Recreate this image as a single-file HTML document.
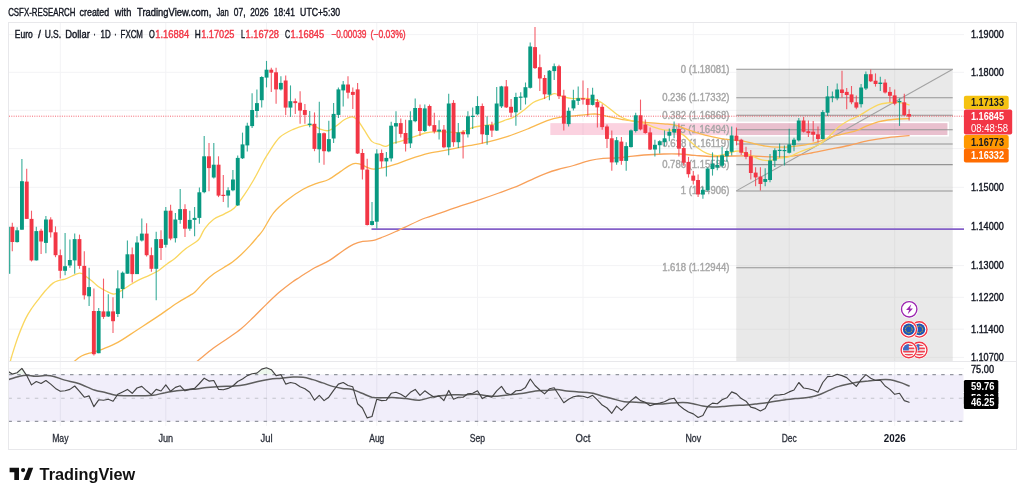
<!DOCTYPE html>
<html lang="en"><head><meta charset="utf-8"><title>EURUSD chart</title>
<style>html,body{margin:0;padding:0;background:#fff;}body{width:1024px;height:499px;overflow:hidden;font-family:"Liberation Sans",Arial,sans-serif;}svg{display:block;filter:blur(0.4px)}</style>
</head><body>
<svg width="1024" height="499" viewBox="0 0 1024 499" font-family="Liberation Sans, Arial, sans-serif">
<rect width="1024" height="499" fill="#fff"/>
<text x="8.2" y="15.7" font-size="10.6" fill="#131722" textLength="67.3" lengthAdjust="spacingAndGlyphs" stroke="#131722" stroke-width="0.4">CSFX-RESEARCH</text>
<text x="79.6" y="15.7" font-size="10.6" fill="#131722" textLength="29.5" lengthAdjust="spacingAndGlyphs" stroke="#131722" stroke-width="0.4">created</text>
<text x="114.8" y="15.7" font-size="10.6" fill="#131722" textLength="16.5" lengthAdjust="spacingAndGlyphs" stroke="#131722" stroke-width="0.4">with</text>
<text x="137.0" y="15.7" font-size="10.6" fill="#131722" textLength="74.3" lengthAdjust="spacingAndGlyphs" stroke="#131722" stroke-width="0.4">TradingView.com,</text>
<text x="216.4" y="15.7" font-size="10.6" fill="#131722" textLength="12.3" lengthAdjust="spacingAndGlyphs" stroke="#131722" stroke-width="0.4">Jan</text>
<text x="233.8" y="15.7" font-size="10.6" fill="#131722" textLength="11.7" lengthAdjust="spacingAndGlyphs" stroke="#131722" stroke-width="0.4">07,</text>
<text x="250.2" y="15.7" font-size="10.6" fill="#131722" textLength="18.5" lengthAdjust="spacingAndGlyphs" stroke="#131722" stroke-width="0.4">2026</text>
<text x="273.8" y="15.7" font-size="10.6" fill="#131722" textLength="21.0" lengthAdjust="spacingAndGlyphs" stroke="#131722" stroke-width="0.4">18:41</text>
<text x="300.1" y="15.7" font-size="10.6" fill="#131722" textLength="40.0" lengthAdjust="spacingAndGlyphs" stroke="#131722" stroke-width="0.4">UTC+5:30</text>
<rect x="8.5" y="22.5" width="1008" height="427" fill="#fff" stroke="#e8e8eb" stroke-width="1"/>
<defs><clipPath id="mp"><rect x="9" y="23" width="955" height="338"/></clipPath><clipPath id="rp"><rect x="9" y="362" width="955" height="64"/></clipPath></defs>
<line x1="60.3" y1="23" x2="60.3" y2="426" stroke="#f3f3f5" stroke-width="1"/>
<line x1="165.8" y1="23" x2="165.8" y2="426" stroke="#f3f3f5" stroke-width="1"/>
<line x1="266.5" y1="23" x2="266.5" y2="426" stroke="#f3f3f5" stroke-width="1"/>
<line x1="376.8" y1="23" x2="376.8" y2="426" stroke="#f3f3f5" stroke-width="1"/>
<line x1="477.5" y1="23" x2="477.5" y2="426" stroke="#f3f3f5" stroke-width="1"/>
<line x1="583" y1="23" x2="583" y2="426" stroke="#f3f3f5" stroke-width="1"/>
<line x1="693.3" y1="23" x2="693.3" y2="426" stroke="#f3f3f5" stroke-width="1"/>
<line x1="789.2" y1="23" x2="789.2" y2="426" stroke="#f3f3f5" stroke-width="1"/>
<line x1="894.7" y1="23" x2="894.7" y2="426" stroke="#f3f3f5" stroke-width="1"/>
<line x1="9" y1="34.6" x2="964" y2="34.6" stroke="#f3f3f5" stroke-width="1"/>
<line x1="9" y1="72.3" x2="964" y2="72.3" stroke="#f3f3f5" stroke-width="1"/>
<line x1="9" y1="110.3" x2="964" y2="110.3" stroke="#f3f3f5" stroke-width="1"/>
<line x1="9" y1="148.6" x2="964" y2="148.6" stroke="#f3f3f5" stroke-width="1"/>
<line x1="9" y1="187.3" x2="964" y2="187.3" stroke="#f3f3f5" stroke-width="1"/>
<line x1="9" y1="226.3" x2="964" y2="226.3" stroke="#f3f3f5" stroke-width="1"/>
<line x1="9" y1="265.6" x2="964" y2="265.6" stroke="#f3f3f5" stroke-width="1"/>
<line x1="9" y1="297.3" x2="964" y2="297.3" stroke="#f3f3f5" stroke-width="1"/>
<line x1="9" y1="329.2" x2="964" y2="329.2" stroke="#f3f3f5" stroke-width="1"/>
<line x1="9" y1="357.4" x2="964" y2="357.4" stroke="#f3f3f5" stroke-width="1"/>
<line x1="9" y1="361.5" x2="1016" y2="361.5" stroke="#e8e8eb" stroke-width="1"/>
<line x1="9" y1="368.7" x2="964" y2="368.7" stroke="#f3f3f5" stroke-width="1"/>
<g clip-path="url(#mp)">
<rect x="736.3" y="69.3" width="216.4" height="291.7" fill="#e9e9e9"/>
<line x1="789.2" y1="69.3" x2="789.2" y2="361" stroke="#dfdfdf" stroke-width="1"/>
<line x1="894.7" y1="69.3" x2="894.7" y2="361" stroke="#dfdfdf" stroke-width="1"/>
<line x1="736.3" y1="110.3" x2="952.7" y2="110.3" stroke="#e1e1e1" stroke-width="1"/>
<line x1="736.3" y1="148.6" x2="952.7" y2="148.6" stroke="#e1e1e1" stroke-width="1"/>
<line x1="736.3" y1="187.3" x2="952.7" y2="187.3" stroke="#e1e1e1" stroke-width="1"/>
<line x1="736.3" y1="226.3" x2="952.7" y2="226.3" stroke="#e1e1e1" stroke-width="1"/>
<line x1="736.3" y1="265.6" x2="952.7" y2="265.6" stroke="#e1e1e1" stroke-width="1"/>
<line x1="736.3" y1="297.3" x2="952.7" y2="297.3" stroke="#e1e1e1" stroke-width="1"/>
<line x1="736.3" y1="329.2" x2="952.7" y2="329.2" stroke="#e1e1e1" stroke-width="1"/>
<line x1="736.3" y1="357.4" x2="952.7" y2="357.4" stroke="#e1e1e1" stroke-width="1"/>
<rect x="549.6" y="122.4" width="398.6" height="13.4" fill="#e91e63" fill-opacity="0.2" stroke="#fff" stroke-width="1.5"/>
<line x1="736.3" y1="69.3" x2="952.7" y2="69.3" stroke="#949494" stroke-width="1.05"/>
<line x1="736.3" y1="97.7" x2="952.7" y2="97.7" stroke="#949494" stroke-width="1.05"/>
<line x1="736.3" y1="115.3" x2="952.7" y2="115.3" stroke="#949494" stroke-width="1.05"/>
<line x1="736.3" y1="129.7" x2="952.7" y2="129.7" stroke="#949494" stroke-width="1.05"/>
<line x1="736.3" y1="144.0" x2="952.7" y2="144.0" stroke="#949494" stroke-width="1.05"/>
<line x1="736.3" y1="164.6" x2="952.7" y2="164.6" stroke="#949494" stroke-width="1.05"/>
<line x1="736.3" y1="190.9" x2="952.7" y2="190.9" stroke="#949494" stroke-width="1.05"/>
<line x1="736.3" y1="267.8" x2="952.7" y2="267.8" stroke="#949494" stroke-width="1.05"/>
<line x1="736.3" y1="190.9" x2="952.7" y2="69.3" stroke="#a2a2a2" stroke-width="1.05"/>
<text x="729.4" y="72.6" font-size="10.6" fill="#a6a6a6" text-anchor="end" textLength="48.6" lengthAdjust="spacingAndGlyphs" stroke="#a6a6a6" stroke-width="0.4">0 (1.18081)</text>
<text x="729.4" y="101.0" font-size="10.6" fill="#a6a6a6" text-anchor="end" textLength="67.2" lengthAdjust="spacingAndGlyphs" stroke="#a6a6a6" stroke-width="0.4">0.236 (1.17332)</text>
<text x="729.4" y="118.6" font-size="10.6" fill="#a6a6a6" text-anchor="end" textLength="67.2" lengthAdjust="spacingAndGlyphs" stroke="#a6a6a6" stroke-width="0.4">0.382 (1.16868)</text>
<text x="729.4" y="133.0" font-size="10.6" fill="#a6a6a6" text-anchor="end" textLength="57.2" lengthAdjust="spacingAndGlyphs" stroke="#a6a6a6" stroke-width="0.4">0.5 (1.16494)</text>
<text x="729.4" y="147.3" font-size="10.6" fill="#a6a6a6" text-anchor="end" textLength="67.2" lengthAdjust="spacingAndGlyphs" stroke="#a6a6a6" stroke-width="0.4">0.618 (1.16119)</text>
<text x="729.4" y="167.9" font-size="10.6" fill="#a6a6a6" text-anchor="end" textLength="67.2" lengthAdjust="spacingAndGlyphs" stroke="#a6a6a6" stroke-width="0.4">0.786 (1.15586)</text>
<text x="729.4" y="194.2" font-size="10.6" fill="#a6a6a6" text-anchor="end" textLength="48.6" lengthAdjust="spacingAndGlyphs" stroke="#a6a6a6" stroke-width="0.4">1 (1.14906)</text>
<text x="729.4" y="271.1" font-size="10.6" fill="#a6a6a6" text-anchor="end" textLength="67.2" lengthAdjust="spacingAndGlyphs" stroke="#a6a6a6" stroke-width="0.4">1.618 (1.12944)</text>
<line x1="371.5" y1="229.2" x2="964" y2="229.2" stroke="#8460c8" stroke-width="1.7"/>
<path d="M196.0 362.3C196.4 362.0 195.5 362.6 198.4 360.3C201.3 358.0 208.3 352.0 213.2 348.3C218.1 344.6 223.3 341.4 227.9 338.2C232.5 335.0 236.5 332.5 240.8 329.0C245.1 325.5 249.4 321.1 253.7 317.0C258.0 312.9 262.3 308.2 266.6 304.1C270.9 300.0 275.2 295.8 279.5 292.1C283.8 288.4 289.0 284.5 292.4 282.0C295.8 279.5 296.3 279.4 300.0 277.0C303.7 274.6 309.8 270.6 314.7 267.8C319.6 265.0 324.9 263.2 329.5 260.4C334.1 257.6 338.4 253.9 342.4 251.2C346.4 248.5 350.0 246.0 353.4 244.4C356.8 242.8 359.6 242.0 362.7 241.4C365.8 240.8 368.5 241.4 371.9 240.7C375.3 240.0 378.9 238.5 382.9 237.0C386.9 235.5 391.2 233.6 395.8 231.5C400.4 229.4 405.7 226.8 410.6 224.5C415.5 222.2 420.4 219.9 425.3 218.0C430.2 216.1 435.1 214.8 440.0 213.1C444.9 211.4 448.2 210.1 454.8 207.9C461.4 205.7 472.0 202.4 479.3 199.9C486.6 197.4 492.3 195.4 498.9 193.0C505.4 190.6 512.7 188.0 518.6 185.6C524.5 183.2 529.7 180.3 534.3 178.3C538.9 176.3 542.2 174.9 546.1 173.4C550.0 171.9 553.3 170.8 557.9 169.5C562.5 168.2 568.4 167.0 573.6 165.5C578.8 164.0 584.4 161.8 589.3 160.6C594.2 159.4 598.5 158.7 603.1 158.3C607.7 157.9 612.5 158.3 616.8 158.0C621.0 157.7 624.1 157.2 628.6 156.7C633.1 156.2 638.1 155.4 643.9 155.0C649.7 154.6 657.7 154.2 663.6 154.0C669.5 153.8 674.1 153.8 679.3 154.0C684.5 154.2 689.4 155.0 695.0 155.4C700.6 155.8 706.5 156.4 712.7 156.5C718.9 156.6 725.9 156.1 732.4 156.0C738.9 155.9 745.5 155.8 752.0 156.0C758.5 156.2 765.3 156.8 771.6 156.9C777.9 157.0 783.3 156.9 789.6 156.3C795.9 155.7 802.8 154.6 809.3 153.4C815.8 152.2 822.3 150.7 828.9 149.4C835.5 148.1 842.0 147.0 848.6 145.5C855.2 144.0 861.7 141.9 868.2 140.6C874.8 139.3 881.1 138.4 887.9 137.6C894.7 136.8 905.6 136.0 909.1 135.7" fill="none" stroke="#f8a05a" stroke-width="1.3" stroke-linejoin="round" stroke-linecap="round" opacity="1"/>
<path d="M73.5 362.0C74.8 361.0 78.4 357.6 81.5 356.0C84.6 354.4 88.9 353.4 92.3 352.3C95.7 351.2 97.8 351.0 102.1 349.3C106.3 347.6 111.9 345.7 117.8 342.4C123.7 339.1 130.9 333.9 137.5 329.7C144.1 325.4 150.5 321.3 157.1 316.9C163.7 312.5 171.3 306.8 176.8 303.2C182.3 299.6 187.0 297.3 190.0 295.4C193.0 293.5 192.5 294.4 195.0 292.0C197.5 289.6 201.9 284.3 205.0 281.3C208.1 278.3 210.7 276.1 213.8 273.8C216.9 271.5 220.7 269.5 223.8 267.5C226.9 265.5 229.6 264.1 232.5 261.9C235.4 259.7 238.4 257.1 241.3 254.4C244.2 251.7 247.3 248.5 250.0 245.6C252.7 242.7 255.3 239.5 257.5 236.9C259.7 234.3 260.4 234.0 263.1 230.0C265.8 226.0 269.6 217.9 273.6 212.9C277.6 207.9 282.4 204.0 287.3 200.1C292.2 196.2 298.2 192.1 303.1 189.3C308.0 186.5 312.6 185.0 316.8 183.4C321.1 181.8 324.7 181.5 328.6 179.5C332.5 177.5 336.5 174.2 340.4 171.6C344.3 169.0 348.9 165.3 352.2 164.1C355.5 162.8 357.4 163.5 360.0 164.1C362.6 164.7 365.6 166.9 367.9 167.7C370.2 168.5 371.2 169.1 373.8 169.1C376.4 169.1 380.1 168.5 383.6 167.7C387.1 166.9 390.7 165.8 395.0 164.4C399.3 163.0 403.9 161.0 409.6 159.1C415.3 157.2 422.8 154.8 429.3 153.2C435.9 151.6 442.3 150.9 448.9 149.7C455.4 148.4 462.1 147.0 468.6 145.7C475.2 144.4 481.6 143.4 488.2 141.8C494.8 140.2 501.3 138.4 507.9 136.3C514.4 134.2 521.0 131.6 527.5 129.0C534.0 126.4 541.6 122.6 547.2 120.6C552.8 118.6 556.0 118.0 560.9 117.2C565.8 116.4 572.0 116.1 576.6 115.6C581.2 115.1 584.8 114.7 588.2 114.4C591.6 114.2 593.7 113.8 596.8 114.1C599.9 114.4 602.7 115.2 606.6 116.1C610.5 116.9 615.8 118.3 620.4 119.2C625.0 120.1 629.5 120.6 634.1 121.2C638.7 121.8 643.0 122.1 647.9 122.6C652.8 123.0 659.0 123.5 663.6 123.9C668.2 124.3 671.5 124.2 675.4 125.1C679.3 126.0 683.3 128.0 687.2 129.4C691.1 130.8 694.6 132.2 698.9 133.4C703.1 134.7 708.1 135.9 712.7 136.9C717.3 137.9 721.5 138.7 726.4 139.3C731.3 140.0 737.6 140.1 742.2 140.8C746.8 141.5 750.1 142.7 754.0 143.6C757.9 144.5 761.9 145.5 765.8 146.1C769.7 146.7 773.5 147.0 777.5 147.1C781.5 147.2 785.0 147.3 789.6 146.9C794.2 146.5 800.5 145.8 805.4 144.9C810.3 144.0 814.5 143.0 819.1 141.6C823.7 140.2 828.0 137.8 832.9 136.3C837.8 134.8 844.4 133.8 848.6 132.7C852.9 131.6 855.1 131.0 858.4 129.8C861.7 128.6 864.9 126.6 868.2 125.3C871.5 124.0 874.8 122.8 878.1 121.9C881.4 121.0 884.6 120.5 887.9 120.0C891.2 119.5 894.2 119.2 897.7 119.0C901.2 118.8 907.2 118.7 909.1 118.6" fill="none" stroke="#fab950" stroke-width="1.3" stroke-linejoin="round" stroke-linecap="round" opacity="1"/>
<path d="M10.2 362.0C10.5 361.0 10.5 360.2 11.8 356.0C13.1 351.8 15.7 343.2 18.0 337.0C20.3 330.8 23.2 323.7 25.5 318.9C27.8 314.1 29.7 311.4 32.0 308.0C34.3 304.6 37.0 301.3 39.3 298.3C41.6 295.3 43.7 292.5 46.0 290.0C48.3 287.5 50.8 284.7 53.0 283.1C55.2 281.5 57.0 281.1 59.0 280.5C61.0 279.9 62.6 279.9 64.8 279.2C67.0 278.4 69.7 277.0 72.0 276.0C74.3 275.0 76.8 273.6 78.6 273.3C80.4 273.0 81.7 273.4 83.0 274.0C84.3 274.6 84.9 275.5 86.4 276.7C87.9 277.9 90.0 279.4 92.0 281.0C94.0 282.6 95.9 284.8 98.2 286.5C100.5 288.2 103.5 289.8 106.0 291.0C108.5 292.2 111.1 293.7 113.0 294.0C114.9 294.3 116.0 293.6 117.5 293.0C119.0 292.4 119.7 291.7 121.8 290.4C123.9 289.1 127.4 286.6 130.0 285.0C132.6 283.4 134.3 282.2 137.5 280.6C140.7 279.0 145.7 277.0 149.3 275.3C152.9 273.6 156.2 272.1 159.1 270.2C162.0 268.3 164.4 265.8 167.0 263.9C169.6 261.9 171.9 260.9 174.8 258.5C177.8 256.1 181.1 252.2 184.7 249.4C188.3 246.6 193.9 243.5 196.5 241.5C199.1 239.5 198.6 239.8 200.0 237.6C201.4 235.4 202.5 231.7 204.8 228.6C207.1 225.5 210.4 221.6 213.7 219.2C217.0 216.8 221.1 215.8 224.5 213.9C227.9 212.0 231.0 211.1 234.3 208.0C237.6 204.9 240.8 199.9 244.1 195.2C247.4 190.4 250.6 185.2 253.9 179.5C257.2 173.8 261.3 165.3 263.8 160.8C266.3 156.3 266.1 156.5 268.7 152.6C271.3 148.7 275.4 141.4 279.5 137.5C283.6 133.6 288.9 131.3 293.2 129.3C297.4 127.3 301.7 126.0 305.0 125.3C308.3 124.6 310.3 124.6 312.9 125.3C315.5 126.0 318.1 128.4 320.7 129.3C323.3 130.2 326.0 131.2 328.6 130.6C331.2 130.0 333.9 127.5 336.5 125.7C339.1 123.9 341.7 121.3 344.3 119.8C346.9 118.3 349.9 116.7 352.2 116.9C354.5 117.1 356.0 118.7 358.0 120.8C360.0 122.9 361.7 126.3 364.0 129.7C366.3 133.1 369.2 138.9 371.8 141.4C374.4 143.9 377.4 143.6 379.7 144.4C382.0 145.2 383.6 146.5 385.6 146.4C387.6 146.3 388.8 144.7 391.5 143.8C394.2 142.9 398.1 142.0 401.8 140.8C405.5 139.7 409.7 138.2 413.6 136.9C417.5 135.6 421.5 133.9 425.4 133.0C429.3 132.1 433.3 131.8 437.2 131.6C441.1 131.4 445.0 131.9 448.9 132.0C452.8 132.1 456.8 133.1 460.7 132.4C464.6 131.7 468.9 128.8 472.5 127.7C476.1 126.6 478.7 126.3 482.3 125.7C485.9 125.1 490.5 124.9 494.1 124.1C497.7 123.2 500.8 121.8 504.0 120.6C507.2 119.4 510.4 118.9 513.6 117.2C516.8 115.5 520.1 112.9 523.4 110.4C526.7 108.0 529.9 104.5 533.2 102.5C536.5 100.5 540.4 99.7 543.0 98.6C545.6 97.5 547.0 96.8 549.0 96.0C551.0 95.2 552.5 93.6 554.8 93.7C557.1 93.8 559.8 95.8 562.7 96.6C565.7 97.4 568.9 98.3 572.5 98.6C576.1 98.9 580.3 98.1 584.3 98.4C588.3 98.7 592.8 98.9 596.5 100.2C600.2 101.5 603.3 103.9 606.6 106.2C609.9 108.5 613.5 111.9 616.4 114.0C619.3 116.1 621.3 117.4 624.3 118.6C627.2 119.8 630.8 120.5 634.1 121.2C637.4 122.0 640.6 122.1 643.9 123.1C647.2 124.1 650.5 126.0 653.8 127.1C657.1 128.2 660.3 129.2 663.6 129.8C666.9 130.4 670.1 129.6 673.4 130.4C676.7 131.2 680.2 132.9 683.2 134.9C686.2 136.9 688.5 139.9 691.1 142.2C693.7 144.5 696.3 146.8 698.9 148.7C701.5 150.6 704.2 152.3 706.8 153.4C709.4 154.5 712.1 155.1 714.7 155.4C717.3 155.7 719.9 155.5 722.5 155.0C725.1 154.5 727.8 153.3 730.4 152.6C733.0 151.9 735.6 150.9 738.2 151.0C740.8 151.1 743.5 152.4 746.1 153.4C748.7 154.4 751.4 155.8 754.0 156.9C756.6 158.0 759.2 159.3 761.8 159.9C764.4 160.5 767.1 160.7 769.7 160.5C772.3 160.3 774.2 159.1 777.5 158.5C780.8 157.9 785.9 157.8 789.6 156.7C793.3 155.6 796.2 153.4 799.5 152.0C802.8 150.6 806.0 149.7 809.3 148.4C812.6 147.2 815.8 146.4 819.1 144.5C822.4 142.6 825.6 139.6 828.9 136.7C832.2 133.8 835.5 129.5 838.8 126.8C842.1 124.1 845.3 122.3 848.6 120.5C851.9 118.7 855.1 117.7 858.4 116.0C861.7 114.3 864.9 112.0 868.2 110.1C871.5 108.2 874.8 106.0 878.1 104.8C881.4 103.6 884.6 103.3 887.9 102.9C891.2 102.5 894.2 102.0 897.7 102.3C901.2 102.6 907.2 104.4 909.1 104.8" fill="none" stroke="#fad75f" stroke-width="1.3" stroke-linejoin="round" stroke-linecap="round" opacity="1"/>
<line x1="9" y1="116.2" x2="964" y2="116.2" stroke="#f23645" stroke-width="0.9" stroke-dasharray="1,1.3" opacity="0.85"/>
<rect x="9" y="226.8" width="1.3" height="47" fill="#089981" opacity="0.8"/>
<line x1="12.3" y1="222.8" x2="12.3" y2="251.3" stroke="#f23645" stroke-width="1.1" opacity="0.8"/>
<rect x="10.4" y="226.8" width="3.9" height="15.2" fill="#f23645"/>
<line x1="17.1" y1="227.2" x2="17.1" y2="242.5" stroke="#089981" stroke-width="1.1" opacity="0.8"/>
<rect x="15.2" y="230.3" width="3.9" height="11.8" fill="#089981"/>
<line x1="21.9" y1="159.0" x2="21.9" y2="229.7" stroke="#089981" stroke-width="1.1" opacity="0.8"/>
<rect x="20.0" y="181.2" width="3.9" height="48.5" fill="#089981"/>
<line x1="26.7" y1="168.8" x2="26.7" y2="218.9" stroke="#f23645" stroke-width="1.1" opacity="0.8"/>
<rect x="24.8" y="181.6" width="3.9" height="37.3" fill="#f23645"/>
<line x1="31.5" y1="210.7" x2="31.5" y2="261.5" stroke="#f23645" stroke-width="1.1" opacity="0.8"/>
<rect x="29.6" y="218.9" width="3.9" height="41.5" fill="#f23645"/>
<line x1="36.3" y1="226.8" x2="36.3" y2="260.4" stroke="#089981" stroke-width="1.1" opacity="0.8"/>
<rect x="34.4" y="231.1" width="3.9" height="29.3" fill="#089981"/>
<line x1="41.1" y1="228.7" x2="41.1" y2="253.9" stroke="#f23645" stroke-width="1.1" opacity="0.8"/>
<rect x="39.2" y="230.7" width="3.9" height="10.8" fill="#f23645"/>
<line x1="45.9" y1="216.0" x2="45.9" y2="253.3" stroke="#089981" stroke-width="1.1" opacity="0.8"/>
<rect x="44.0" y="219.5" width="3.9" height="23.4" fill="#089981"/>
<line x1="50.7" y1="217.3" x2="50.7" y2="237.6" stroke="#f23645" stroke-width="1.1" opacity="0.8"/>
<rect x="48.8" y="219.5" width="3.9" height="12.8" fill="#f23645"/>
<line x1="55.5" y1="226.4" x2="55.5" y2="257.2" stroke="#f23645" stroke-width="1.1" opacity="0.8"/>
<rect x="53.6" y="232.3" width="3.9" height="22.9" fill="#f23645"/>
<line x1="60.3" y1="249.4" x2="60.3" y2="278.6" stroke="#f23645" stroke-width="1.1" opacity="0.8"/>
<rect x="58.3" y="255.2" width="3.9" height="15.6" fill="#f23645"/>
<line x1="65.1" y1="233.0" x2="65.1" y2="275.3" stroke="#089981" stroke-width="1.1" opacity="0.8"/>
<rect x="63.1" y="266.2" width="3.9" height="4.6" fill="#089981"/>
<line x1="69.9" y1="239.5" x2="69.9" y2="267.8" stroke="#089981" stroke-width="1.1" opacity="0.8"/>
<rect x="67.9" y="260.0" width="3.9" height="5.5" fill="#089981"/>
<line x1="74.7" y1="233.6" x2="74.7" y2="273.7" stroke="#089981" stroke-width="1.1" opacity="0.8"/>
<rect x="72.7" y="239.1" width="3.9" height="21.3" fill="#089981"/>
<line x1="79.5" y1="234.6" x2="79.5" y2="268.8" stroke="#f23645" stroke-width="1.1" opacity="0.8"/>
<rect x="77.5" y="239.1" width="3.9" height="26.8" fill="#f23645"/>
<line x1="84.3" y1="251.3" x2="84.3" y2="299.6" stroke="#f23645" stroke-width="1.1" opacity="0.8"/>
<rect x="82.3" y="265.9" width="3.9" height="29.4" fill="#f23645"/>
<line x1="89.1" y1="267.8" x2="89.1" y2="306.1" stroke="#089981" stroke-width="1.1" opacity="0.8"/>
<rect x="87.1" y="287.1" width="3.9" height="9.2" fill="#089981"/>
<line x1="93.9" y1="288.4" x2="93.9" y2="355.6" stroke="#f23645" stroke-width="1.1" opacity="0.8"/>
<rect x="91.9" y="311.0" width="3.9" height="43.2" fill="#f23645"/>
<line x1="98.7" y1="308.1" x2="98.7" y2="353.2" stroke="#089981" stroke-width="1.1" opacity="0.8"/>
<rect x="96.7" y="311.0" width="3.9" height="42.2" fill="#089981"/>
<line x1="103.5" y1="278.6" x2="103.5" y2="318.9" stroke="#f23645" stroke-width="1.1" opacity="0.8"/>
<rect x="101.5" y="311.4" width="3.9" height="5.5" fill="#f23645"/>
<line x1="108.3" y1="294.3" x2="108.3" y2="317.0" stroke="#089981" stroke-width="1.1" opacity="0.8"/>
<rect x="106.3" y="311.4" width="3.9" height="5.1" fill="#089981"/>
<line x1="113.0" y1="297.3" x2="113.0" y2="333.0" stroke="#f23645" stroke-width="1.1" opacity="0.8"/>
<rect x="111.1" y="311.4" width="3.9" height="9.8" fill="#f23645"/>
<line x1="117.8" y1="270.2" x2="117.8" y2="316.9" stroke="#089981" stroke-width="1.1" opacity="0.8"/>
<rect x="115.9" y="288.4" width="3.9" height="25.6" fill="#089981"/>
<line x1="122.6" y1="271.4" x2="122.6" y2="298.3" stroke="#089981" stroke-width="1.1" opacity="0.8"/>
<rect x="120.7" y="272.7" width="3.9" height="16.3" fill="#089981"/>
<line x1="127.4" y1="240.5" x2="127.4" y2="273.7" stroke="#089981" stroke-width="1.1" opacity="0.8"/>
<rect x="125.5" y="254.3" width="3.9" height="19.4" fill="#089981"/>
<line x1="132.2" y1="247.4" x2="132.2" y2="282.5" stroke="#f23645" stroke-width="1.1" opacity="0.8"/>
<rect x="130.3" y="254.3" width="3.9" height="19.8" fill="#f23645"/>
<line x1="137.0" y1="236.2" x2="137.0" y2="274.1" stroke="#089981" stroke-width="1.1" opacity="0.8"/>
<rect x="135.1" y="242.5" width="3.9" height="31.6" fill="#089981"/>
<line x1="141.8" y1="218.5" x2="141.8" y2="241.5" stroke="#089981" stroke-width="1.1" opacity="0.8"/>
<rect x="139.9" y="233.6" width="3.9" height="6.9" fill="#089981"/>
<line x1="146.6" y1="223.2" x2="146.6" y2="256.6" stroke="#f23645" stroke-width="1.1" opacity="0.8"/>
<rect x="144.7" y="233.6" width="3.9" height="21.6" fill="#f23645"/>
<line x1="151.4" y1="247.4" x2="151.4" y2="271.7" stroke="#f23645" stroke-width="1.1" opacity="0.8"/>
<rect x="149.5" y="255.2" width="3.9" height="13.6" fill="#f23645"/>
<line x1="156.2" y1="231.7" x2="156.2" y2="300.2" stroke="#089981" stroke-width="1.1" opacity="0.8"/>
<rect x="154.3" y="239.1" width="3.9" height="29.7" fill="#089981"/>
<line x1="161.0" y1="230.3" x2="161.0" y2="260.0" stroke="#f23645" stroke-width="1.1" opacity="0.8"/>
<rect x="159.1" y="239.1" width="3.9" height="8.9" fill="#f23645"/>
<line x1="165.8" y1="207.1" x2="165.8" y2="247.4" stroke="#089981" stroke-width="1.1" opacity="0.8"/>
<rect x="163.8" y="210.7" width="3.9" height="34.1" fill="#089981"/>
<line x1="170.6" y1="204.8" x2="170.6" y2="240.2" stroke="#f23645" stroke-width="1.1" opacity="0.8"/>
<rect x="168.6" y="210.7" width="3.9" height="27.9" fill="#f23645"/>
<line x1="175.4" y1="213.0" x2="175.4" y2="242.5" stroke="#089981" stroke-width="1.1" opacity="0.8"/>
<rect x="173.4" y="219.5" width="3.9" height="18.7" fill="#089981"/>
<line x1="180.2" y1="189.1" x2="180.2" y2="223.8" stroke="#089981" stroke-width="1.1" opacity="0.8"/>
<rect x="178.2" y="209.1" width="3.9" height="10.8" fill="#089981"/>
<line x1="185.0" y1="204.2" x2="185.0" y2="237.0" stroke="#f23645" stroke-width="1.1" opacity="0.8"/>
<rect x="183.0" y="209.1" width="3.9" height="19.6" fill="#f23645"/>
<line x1="189.8" y1="210.7" x2="189.8" y2="230.7" stroke="#089981" stroke-width="1.1" opacity="0.8"/>
<rect x="187.8" y="219.9" width="3.9" height="8.8" fill="#089981"/>
<line x1="194.6" y1="207.1" x2="194.6" y2="236.2" stroke="#089981" stroke-width="1.1" opacity="0.8"/>
<rect x="192.6" y="217.9" width="3.9" height="2.0" fill="#089981"/>
<line x1="199.4" y1="187.4" x2="199.4" y2="223.8" stroke="#089981" stroke-width="1.1" opacity="0.8"/>
<rect x="197.4" y="192.3" width="3.9" height="25.6" fill="#089981"/>
<line x1="204.2" y1="135.9" x2="204.2" y2="193.2" stroke="#089981" stroke-width="1.1" opacity="0.8"/>
<rect x="202.2" y="156.3" width="3.9" height="35.9" fill="#089981"/>
<line x1="209.0" y1="143.0" x2="209.0" y2="191.3" stroke="#f23645" stroke-width="1.1" opacity="0.8"/>
<rect x="207.0" y="156.3" width="3.9" height="11.8" fill="#f23645"/>
<line x1="213.8" y1="143.0" x2="213.8" y2="178.5" stroke="#089981" stroke-width="1.1" opacity="0.8"/>
<rect x="211.8" y="164.7" width="3.9" height="12.8" fill="#089981"/>
<line x1="218.5" y1="156.3" x2="218.5" y2="197.1" stroke="#f23645" stroke-width="1.1" opacity="0.8"/>
<rect x="216.6" y="164.7" width="3.9" height="30.9" fill="#f23645"/>
<line x1="223.3" y1="175.1" x2="223.3" y2="202.0" stroke="#f23645" stroke-width="1.1" opacity="0.8"/>
<rect x="221.4" y="194.8" width="3.9" height="1.2" fill="#f23645"/>
<line x1="228.1" y1="187.3" x2="228.1" y2="207.4" stroke="#089981" stroke-width="1.1" opacity="0.8"/>
<rect x="226.2" y="190.3" width="3.9" height="5.3" fill="#089981"/>
<line x1="232.9" y1="170.0" x2="232.9" y2="191.3" stroke="#089981" stroke-width="1.1" opacity="0.8"/>
<rect x="231.0" y="179.5" width="3.9" height="10.8" fill="#089981"/>
<line x1="237.7" y1="155.5" x2="237.7" y2="206.0" stroke="#089981" stroke-width="1.1" opacity="0.8"/>
<rect x="235.8" y="157.9" width="3.9" height="47.5" fill="#089981"/>
<line x1="242.5" y1="132.6" x2="242.5" y2="159.0" stroke="#089981" stroke-width="1.1" opacity="0.8"/>
<rect x="240.6" y="144.4" width="3.9" height="13.9" fill="#089981"/>
<line x1="247.3" y1="122.8" x2="247.3" y2="151.5" stroke="#089981" stroke-width="1.1" opacity="0.8"/>
<rect x="245.4" y="125.7" width="3.9" height="19.7" fill="#089981"/>
<line x1="252.1" y1="93.3" x2="252.1" y2="128.0" stroke="#089981" stroke-width="1.1" opacity="0.8"/>
<rect x="250.2" y="110.0" width="3.9" height="16.1" fill="#089981"/>
<line x1="256.9" y1="89.4" x2="256.9" y2="117.5" stroke="#089981" stroke-width="1.1" opacity="0.8"/>
<rect x="255.0" y="103.1" width="3.9" height="7.9" fill="#089981"/>
<line x1="261.7" y1="76.2" x2="261.7" y2="107.6" stroke="#089981" stroke-width="1.1" opacity="0.8"/>
<rect x="259.8" y="77.0" width="3.9" height="23.2" fill="#089981"/>
<line x1="266.5" y1="60.9" x2="266.5" y2="87.4" stroke="#089981" stroke-width="1.1" opacity="0.8"/>
<rect x="264.6" y="69.7" width="3.9" height="7.9" fill="#089981"/>
<line x1="271.3" y1="67.8" x2="271.3" y2="91.9" stroke="#f23645" stroke-width="1.1" opacity="0.8"/>
<rect x="269.3" y="69.7" width="3.9" height="3.0" fill="#f23645"/>
<line x1="276.1" y1="67.8" x2="276.1" y2="103.7" stroke="#f23645" stroke-width="1.1" opacity="0.8"/>
<rect x="274.1" y="72.3" width="3.9" height="17.1" fill="#f23645"/>
<line x1="280.9" y1="76.2" x2="280.9" y2="90.4" stroke="#089981" stroke-width="1.1" opacity="0.8"/>
<rect x="278.9" y="82.9" width="3.9" height="6.5" fill="#089981"/>
<line x1="285.7" y1="75.6" x2="285.7" y2="114.9" stroke="#f23645" stroke-width="1.1" opacity="0.8"/>
<rect x="283.7" y="80.5" width="3.9" height="27.1" fill="#f23645"/>
<line x1="290.5" y1="85.4" x2="290.5" y2="116.9" stroke="#089981" stroke-width="1.1" opacity="0.8"/>
<rect x="288.5" y="101.2" width="3.9" height="6.4" fill="#089981"/>
<line x1="295.3" y1="98.6" x2="295.3" y2="113.9" stroke="#f23645" stroke-width="1.1" opacity="0.8"/>
<rect x="293.3" y="101.2" width="3.9" height="1.9" fill="#f23645"/>
<line x1="300.1" y1="91.3" x2="300.1" y2="123.8" stroke="#f23645" stroke-width="1.1" opacity="0.8"/>
<rect x="298.1" y="102.7" width="3.9" height="7.9" fill="#f23645"/>
<line x1="304.9" y1="104.1" x2="304.9" y2="123.8" stroke="#f23645" stroke-width="1.1" opacity="0.8"/>
<rect x="302.9" y="110.0" width="3.9" height="4.9" fill="#f23645"/>
<line x1="309.7" y1="111.0" x2="309.7" y2="127.3" stroke="#089981" stroke-width="1.1" opacity="0.8"/>
<rect x="307.7" y="123.6" width="3.9" height="1.4" fill="#089981"/>
<line x1="314.5" y1="112.4" x2="314.5" y2="151.2" stroke="#f23645" stroke-width="1.1" opacity="0.8"/>
<rect x="312.5" y="123.8" width="3.9" height="25.1" fill="#f23645"/>
<line x1="319.3" y1="101.8" x2="319.3" y2="162.8" stroke="#089981" stroke-width="1.1" opacity="0.8"/>
<rect x="317.3" y="133.2" width="3.9" height="16.1" fill="#089981"/>
<line x1="324.0" y1="132.6" x2="324.0" y2="164.7" stroke="#f23645" stroke-width="1.1" opacity="0.8"/>
<rect x="322.1" y="133.2" width="3.9" height="18.0" fill="#f23645"/>
<line x1="328.8" y1="120.8" x2="328.8" y2="152.3" stroke="#089981" stroke-width="1.1" opacity="0.8"/>
<rect x="326.9" y="139.1" width="3.9" height="12.3" fill="#089981"/>
<line x1="333.6" y1="103.1" x2="333.6" y2="143.0" stroke="#089981" stroke-width="1.1" opacity="0.8"/>
<rect x="331.7" y="113.9" width="3.9" height="24.6" fill="#089981"/>
<line x1="338.4" y1="87.4" x2="338.4" y2="117.9" stroke="#089981" stroke-width="1.1" opacity="0.8"/>
<rect x="336.5" y="89.4" width="3.9" height="25.5" fill="#089981"/>
<line x1="343.2" y1="80.9" x2="343.2" y2="106.5" stroke="#089981" stroke-width="1.1" opacity="0.8"/>
<rect x="341.3" y="84.5" width="3.9" height="5.9" fill="#089981"/>
<line x1="348.0" y1="76.2" x2="348.0" y2="98.6" stroke="#f23645" stroke-width="1.1" opacity="0.8"/>
<rect x="346.1" y="84.5" width="3.9" height="8.2" fill="#f23645"/>
<line x1="352.8" y1="87.4" x2="352.8" y2="109.0" stroke="#f23645" stroke-width="1.1" opacity="0.8"/>
<rect x="350.9" y="91.9" width="3.9" height="3.0" fill="#f23645"/>
<line x1="357.6" y1="82.9" x2="357.6" y2="154.0" stroke="#f23645" stroke-width="1.1" opacity="0.8"/>
<rect x="355.7" y="89.4" width="3.9" height="64.1" fill="#f23645"/>
<line x1="362.4" y1="148.9" x2="362.4" y2="179.5" stroke="#f23645" stroke-width="1.1" opacity="0.8"/>
<rect x="360.5" y="153.0" width="3.9" height="16.6" fill="#f23645"/>
<line x1="367.2" y1="158.8" x2="367.2" y2="225.6" stroke="#f23645" stroke-width="1.1" opacity="0.8"/>
<rect x="365.3" y="169.6" width="3.9" height="55.4" fill="#f23645"/>
<line x1="372.0" y1="202.0" x2="372.0" y2="225.6" stroke="#089981" stroke-width="1.1" opacity="0.8"/>
<rect x="370.1" y="221.1" width="3.9" height="3.9" fill="#089981"/>
<line x1="376.8" y1="149.3" x2="376.8" y2="228.6" stroke="#089981" stroke-width="1.1" opacity="0.8"/>
<rect x="374.8" y="153.5" width="3.9" height="68.2" fill="#089981"/>
<line x1="381.6" y1="149.5" x2="381.6" y2="167.7" stroke="#f23645" stroke-width="1.1" opacity="0.8"/>
<rect x="379.6" y="153.0" width="3.9" height="8.4" fill="#f23645"/>
<line x1="386.4" y1="152.0" x2="386.4" y2="176.5" stroke="#089981" stroke-width="1.1" opacity="0.8"/>
<rect x="384.4" y="157.9" width="3.9" height="3.5" fill="#089981"/>
<line x1="391.2" y1="121.8" x2="391.2" y2="161.6" stroke="#089981" stroke-width="1.1" opacity="0.8"/>
<rect x="389.2" y="125.7" width="3.9" height="32.7" fill="#089981"/>
<line x1="396.0" y1="111.3" x2="396.0" y2="143.8" stroke="#089981" stroke-width="1.1" opacity="0.8"/>
<rect x="394.0" y="123.1" width="3.9" height="3.4" fill="#089981"/>
<line x1="400.8" y1="118.6" x2="400.8" y2="137.5" stroke="#f23645" stroke-width="1.1" opacity="0.8"/>
<rect x="398.8" y="123.1" width="3.9" height="10.8" fill="#f23645"/>
<line x1="405.6" y1="119.8" x2="405.6" y2="151.6" stroke="#f23645" stroke-width="1.1" opacity="0.8"/>
<rect x="403.6" y="133.0" width="3.9" height="10.8" fill="#f23645"/>
<line x1="410.4" y1="111.3" x2="410.4" y2="148.1" stroke="#089981" stroke-width="1.1" opacity="0.8"/>
<rect x="408.4" y="120.2" width="3.9" height="23.2" fill="#089981"/>
<line x1="415.2" y1="98.6" x2="415.2" y2="122.2" stroke="#089981" stroke-width="1.1" opacity="0.8"/>
<rect x="413.2" y="108.0" width="3.9" height="13.2" fill="#089981"/>
<line x1="420.0" y1="104.5" x2="420.0" y2="135.9" stroke="#f23645" stroke-width="1.1" opacity="0.8"/>
<rect x="418.0" y="108.0" width="3.9" height="23.0" fill="#f23645"/>
<line x1="424.8" y1="104.5" x2="424.8" y2="132.0" stroke="#089981" stroke-width="1.1" opacity="0.8"/>
<rect x="422.8" y="108.4" width="3.9" height="22.6" fill="#089981"/>
<line x1="429.5" y1="104.5" x2="429.5" y2="126.5" stroke="#f23645" stroke-width="1.1" opacity="0.8"/>
<rect x="427.6" y="106.0" width="3.9" height="19.7" fill="#f23645"/>
<line x1="434.3" y1="112.7" x2="434.3" y2="133.5" stroke="#f23645" stroke-width="1.1" opacity="0.8"/>
<rect x="432.4" y="125.1" width="3.9" height="6.5" fill="#f23645"/>
<line x1="439.1" y1="120.2" x2="439.1" y2="139.4" stroke="#089981" stroke-width="1.1" opacity="0.8"/>
<rect x="437.2" y="129.6" width="3.9" height="2.0" fill="#089981"/>
<line x1="443.9" y1="125.1" x2="443.9" y2="148.2" stroke="#f23645" stroke-width="1.1" opacity="0.8"/>
<rect x="442.0" y="129.6" width="3.9" height="17.7" fill="#f23645"/>
<line x1="448.7" y1="93.7" x2="448.7" y2="155.2" stroke="#089981" stroke-width="1.1" opacity="0.8"/>
<rect x="446.8" y="103.5" width="3.9" height="43.8" fill="#089981"/>
<line x1="453.5" y1="100.1" x2="453.5" y2="146.7" stroke="#f23645" stroke-width="1.1" opacity="0.8"/>
<rect x="451.6" y="102.9" width="3.9" height="39.3" fill="#f23645"/>
<line x1="458.3" y1="123.1" x2="458.3" y2="148.1" stroke="#089981" stroke-width="1.1" opacity="0.8"/>
<rect x="456.4" y="132.4" width="3.9" height="9.8" fill="#089981"/>
<line x1="463.1" y1="130.0" x2="463.1" y2="158.5" stroke="#f23645" stroke-width="1.1" opacity="0.8"/>
<rect x="461.2" y="132.0" width="3.9" height="2.3" fill="#f23645"/>
<line x1="467.9" y1="111.3" x2="467.9" y2="137.5" stroke="#089981" stroke-width="1.1" opacity="0.8"/>
<rect x="466.0" y="116.3" width="3.9" height="18.0" fill="#089981"/>
<line x1="472.7" y1="107.4" x2="472.7" y2="129.0" stroke="#089981" stroke-width="1.1" opacity="0.8"/>
<rect x="470.8" y="115.8" width="3.9" height="1.2" fill="#089981"/>
<line x1="477.5" y1="96.2" x2="477.5" y2="115.3" stroke="#089981" stroke-width="1.1" opacity="0.8"/>
<rect x="475.5" y="106.0" width="3.9" height="8.3" fill="#089981"/>
<line x1="482.3" y1="103.5" x2="482.3" y2="143.4" stroke="#f23645" stroke-width="1.1" opacity="0.8"/>
<rect x="480.3" y="106.0" width="3.9" height="28.3" fill="#f23645"/>
<line x1="487.1" y1="116.3" x2="487.1" y2="144.7" stroke="#089981" stroke-width="1.1" opacity="0.8"/>
<rect x="485.1" y="125.1" width="3.9" height="9.8" fill="#089981"/>
<line x1="491.9" y1="121.8" x2="491.9" y2="136.9" stroke="#f23645" stroke-width="1.1" opacity="0.8"/>
<rect x="489.9" y="125.1" width="3.9" height="5.5" fill="#f23645"/>
<line x1="496.7" y1="87.0" x2="496.7" y2="131.0" stroke="#089981" stroke-width="1.1" opacity="0.8"/>
<rect x="494.7" y="103.5" width="3.9" height="27.1" fill="#089981"/>
<line x1="501.5" y1="85.8" x2="501.5" y2="108.0" stroke="#089981" stroke-width="1.1" opacity="0.8"/>
<rect x="499.5" y="86.4" width="3.9" height="20.0" fill="#089981"/>
<line x1="506.3" y1="79.9" x2="506.3" y2="108.0" stroke="#f23645" stroke-width="1.1" opacity="0.8"/>
<rect x="504.3" y="86.4" width="3.9" height="21.0" fill="#f23645"/>
<line x1="511.1" y1="99.0" x2="511.1" y2="117.2" stroke="#f23645" stroke-width="1.1" opacity="0.8"/>
<rect x="509.1" y="106.8" width="3.9" height="5.9" fill="#f23645"/>
<line x1="515.9" y1="92.7" x2="515.9" y2="125.7" stroke="#089981" stroke-width="1.1" opacity="0.8"/>
<rect x="513.9" y="97.0" width="3.9" height="15.3" fill="#089981"/>
<line x1="520.7" y1="92.3" x2="520.7" y2="110.0" stroke="#089981" stroke-width="1.1" opacity="0.8"/>
<rect x="518.7" y="96.6" width="3.9" height="1.2" fill="#089981"/>
<line x1="525.5" y1="82.5" x2="525.5" y2="104.5" stroke="#089981" stroke-width="1.1" opacity="0.8"/>
<rect x="523.5" y="87.2" width="3.9" height="10.4" fill="#089981"/>
<line x1="530.2" y1="42.6" x2="530.2" y2="88.4" stroke="#089981" stroke-width="1.1" opacity="0.8"/>
<rect x="528.3" y="46.5" width="3.9" height="41.3" fill="#089981"/>
<line x1="535.0" y1="26.9" x2="535.0" y2="69.1" stroke="#f23645" stroke-width="1.1" opacity="0.8"/>
<rect x="533.1" y="47.1" width="3.9" height="21.0" fill="#f23645"/>
<line x1="539.8" y1="54.4" x2="539.8" y2="91.1" stroke="#f23645" stroke-width="1.1" opacity="0.8"/>
<rect x="537.9" y="67.2" width="3.9" height="11.3" fill="#f23645"/>
<line x1="544.6" y1="75.0" x2="544.6" y2="99.0" stroke="#f23645" stroke-width="1.1" opacity="0.8"/>
<rect x="542.7" y="78.0" width="3.9" height="16.3" fill="#f23645"/>
<line x1="549.4" y1="70.1" x2="549.4" y2="100.2" stroke="#089981" stroke-width="1.1" opacity="0.8"/>
<rect x="547.5" y="70.7" width="3.9" height="24.0" fill="#089981"/>
<line x1="554.2" y1="63.6" x2="554.2" y2="79.9" stroke="#089981" stroke-width="1.1" opacity="0.8"/>
<rect x="552.3" y="66.2" width="3.9" height="4.9" fill="#089981"/>
<line x1="559.0" y1="64.8" x2="559.0" y2="99.0" stroke="#f23645" stroke-width="1.1" opacity="0.8"/>
<rect x="557.1" y="66.2" width="3.9" height="30.0" fill="#f23645"/>
<line x1="563.8" y1="89.7" x2="563.8" y2="130.4" stroke="#f23645" stroke-width="1.1" opacity="0.8"/>
<rect x="561.9" y="95.6" width="3.9" height="28.1" fill="#f23645"/>
<line x1="568.6" y1="107.4" x2="568.6" y2="126.5" stroke="#089981" stroke-width="1.1" opacity="0.8"/>
<rect x="566.7" y="110.8" width="3.9" height="13.3" fill="#089981"/>
<line x1="573.4" y1="89.7" x2="573.4" y2="110.6" stroke="#089981" stroke-width="1.1" opacity="0.8"/>
<rect x="571.5" y="100.2" width="3.9" height="8.2" fill="#089981"/>
<line x1="578.2" y1="86.4" x2="578.2" y2="104.9" stroke="#089981" stroke-width="1.1" opacity="0.8"/>
<rect x="576.3" y="98.2" width="3.9" height="2.7" fill="#089981"/>
<line x1="583.0" y1="80.5" x2="583.0" y2="104.5" stroke="#f23645" stroke-width="1.1" opacity="0.8"/>
<rect x="581.0" y="98.2" width="3.9" height="1.4" fill="#f23645"/>
<line x1="587.8" y1="88.0" x2="587.8" y2="116.5" stroke="#f23645" stroke-width="1.1" opacity="0.8"/>
<rect x="585.8" y="99.0" width="3.9" height="5.9" fill="#f23645"/>
<line x1="592.6" y1="87.8" x2="592.6" y2="105.5" stroke="#089981" stroke-width="1.1" opacity="0.8"/>
<rect x="590.6" y="94.7" width="3.9" height="10.2" fill="#089981"/>
<line x1="597.4" y1="99.0" x2="597.4" y2="127.5" stroke="#f23645" stroke-width="1.1" opacity="0.8"/>
<rect x="595.4" y="102.0" width="3.9" height="5.4" fill="#f23645"/>
<line x1="602.2" y1="104.3" x2="602.2" y2="129.8" stroke="#f23645" stroke-width="1.1" opacity="0.8"/>
<rect x="600.2" y="106.8" width="3.9" height="20.3" fill="#f23645"/>
<line x1="607.0" y1="124.5" x2="607.0" y2="148.1" stroke="#f23645" stroke-width="1.1" opacity="0.8"/>
<rect x="605.0" y="126.5" width="3.9" height="12.4" fill="#f23645"/>
<line x1="611.8" y1="130.4" x2="611.8" y2="170.7" stroke="#f23645" stroke-width="1.1" opacity="0.8"/>
<rect x="609.8" y="138.3" width="3.9" height="24.1" fill="#f23645"/>
<line x1="616.6" y1="136.9" x2="616.6" y2="164.8" stroke="#089981" stroke-width="1.1" opacity="0.8"/>
<rect x="614.6" y="140.2" width="3.9" height="22.2" fill="#089981"/>
<line x1="621.4" y1="136.9" x2="621.4" y2="164.8" stroke="#f23645" stroke-width="1.1" opacity="0.8"/>
<rect x="619.4" y="141.6" width="3.9" height="19.3" fill="#f23645"/>
<line x1="626.2" y1="142.2" x2="626.2" y2="170.7" stroke="#089981" stroke-width="1.1" opacity="0.8"/>
<rect x="624.2" y="146.1" width="3.9" height="14.8" fill="#089981"/>
<line x1="631.0" y1="129.4" x2="631.0" y2="147.5" stroke="#089981" stroke-width="1.1" opacity="0.8"/>
<rect x="629.0" y="130.4" width="3.9" height="16.7" fill="#089981"/>
<line x1="635.7" y1="112.7" x2="635.7" y2="132.4" stroke="#089981" stroke-width="1.1" opacity="0.8"/>
<rect x="633.8" y="115.3" width="3.9" height="15.7" fill="#089981"/>
<line x1="640.5" y1="99.6" x2="640.5" y2="130.4" stroke="#f23645" stroke-width="1.1" opacity="0.8"/>
<rect x="638.6" y="115.3" width="3.9" height="14.1" fill="#f23645"/>
<line x1="645.3" y1="119.6" x2="645.3" y2="133.8" stroke="#f23645" stroke-width="1.1" opacity="0.8"/>
<rect x="643.4" y="124.5" width="3.9" height="8.5" fill="#f23645"/>
<line x1="650.1" y1="127.5" x2="650.1" y2="150.0" stroke="#f23645" stroke-width="1.1" opacity="0.8"/>
<rect x="648.2" y="132.4" width="3.9" height="17.1" fill="#f23645"/>
<line x1="654.9" y1="139.7" x2="654.9" y2="156.5" stroke="#089981" stroke-width="1.1" opacity="0.8"/>
<rect x="653.0" y="144.8" width="3.9" height="4.7" fill="#089981"/>
<line x1="659.7" y1="140.2" x2="659.7" y2="153.4" stroke="#089981" stroke-width="1.1" opacity="0.8"/>
<rect x="657.8" y="141.2" width="3.9" height="4.0" fill="#089981"/>
<line x1="664.5" y1="130.4" x2="664.5" y2="146.1" stroke="#089981" stroke-width="1.1" opacity="0.8"/>
<rect x="662.6" y="138.3" width="3.9" height="3.9" fill="#089981"/>
<line x1="669.3" y1="128.5" x2="669.3" y2="141.2" stroke="#089981" stroke-width="1.1" opacity="0.8"/>
<rect x="667.4" y="131.8" width="3.9" height="3.9" fill="#089981"/>
<line x1="674.1" y1="121.6" x2="674.1" y2="138.3" stroke="#089981" stroke-width="1.1" opacity="0.8"/>
<rect x="672.2" y="129.0" width="3.9" height="3.4" fill="#089981"/>
<line x1="678.9" y1="123.5" x2="678.9" y2="156.5" stroke="#f23645" stroke-width="1.1" opacity="0.8"/>
<rect x="677.0" y="129.0" width="3.9" height="19.7" fill="#f23645"/>
<line x1="683.7" y1="147.1" x2="683.7" y2="165.8" stroke="#f23645" stroke-width="1.1" opacity="0.8"/>
<rect x="681.8" y="148.1" width="3.9" height="14.7" fill="#f23645"/>
<line x1="688.5" y1="156.9" x2="688.5" y2="177.6" stroke="#f23645" stroke-width="1.1" opacity="0.8"/>
<rect x="686.5" y="161.9" width="3.9" height="12.3" fill="#f23645"/>
<line x1="693.3" y1="171.0" x2="693.3" y2="184.6" stroke="#f23645" stroke-width="1.1" opacity="0.8"/>
<rect x="691.3" y="175.6" width="3.9" height="5.1" fill="#f23645"/>
<line x1="698.1" y1="174.4" x2="698.1" y2="196.9" stroke="#f23645" stroke-width="1.1" opacity="0.8"/>
<rect x="696.1" y="180.0" width="3.9" height="14.4" fill="#f23645"/>
<line x1="702.9" y1="186.7" x2="702.9" y2="198.8" stroke="#089981" stroke-width="1.1" opacity="0.8"/>
<rect x="700.9" y="189.8" width="3.9" height="4.7" fill="#089981"/>
<line x1="707.7" y1="167.5" x2="707.7" y2="191.3" stroke="#089981" stroke-width="1.1" opacity="0.8"/>
<rect x="705.7" y="168.5" width="3.9" height="21.7" fill="#089981"/>
<line x1="712.5" y1="152.4" x2="712.5" y2="175.6" stroke="#089981" stroke-width="1.1" opacity="0.8"/>
<rect x="710.5" y="163.7" width="3.9" height="5.4" fill="#089981"/>
<line x1="717.3" y1="155.9" x2="717.3" y2="170.2" stroke="#089981" stroke-width="1.1" opacity="0.8"/>
<rect x="715.3" y="165.0" width="3.9" height="2.6" fill="#089981"/>
<line x1="722.1" y1="146.8" x2="722.1" y2="167.4" stroke="#089981" stroke-width="1.1" opacity="0.8"/>
<rect x="720.1" y="155.3" width="3.9" height="10.4" fill="#089981"/>
<line x1="726.9" y1="149.5" x2="726.9" y2="162.0" stroke="#089981" stroke-width="1.1" opacity="0.8"/>
<rect x="724.9" y="151.0" width="3.9" height="5.2" fill="#089981"/>
<line x1="731.7" y1="126.5" x2="731.7" y2="155.6" stroke="#089981" stroke-width="1.1" opacity="0.8"/>
<rect x="729.7" y="135.4" width="3.9" height="16.4" fill="#089981"/>
<line x1="736.5" y1="127.5" x2="736.5" y2="145.4" stroke="#f23645" stroke-width="1.1" opacity="0.8"/>
<rect x="734.5" y="135.6" width="3.9" height="5.3" fill="#f23645"/>
<line x1="741.2" y1="138.7" x2="741.2" y2="155.0" stroke="#f23645" stroke-width="1.1" opacity="0.8"/>
<rect x="739.3" y="139.7" width="3.9" height="13.0" fill="#f23645"/>
<line x1="746.0" y1="146.8" x2="746.0" y2="159.2" stroke="#f23645" stroke-width="1.1" opacity="0.8"/>
<rect x="744.1" y="152.1" width="3.9" height="4.7" fill="#f23645"/>
<line x1="750.8" y1="150.0" x2="750.8" y2="179.6" stroke="#f23645" stroke-width="1.1" opacity="0.8"/>
<rect x="748.9" y="156.2" width="3.9" height="16.8" fill="#f23645"/>
<line x1="755.6" y1="167.3" x2="755.6" y2="186.2" stroke="#f23645" stroke-width="1.1" opacity="0.8"/>
<rect x="753.7" y="172.6" width="3.9" height="4.8" fill="#f23645"/>
<line x1="760.4" y1="167.2" x2="760.4" y2="190.5" stroke="#f23645" stroke-width="1.1" opacity="0.8"/>
<rect x="758.5" y="176.6" width="3.9" height="7.4" fill="#f23645"/>
<line x1="765.2" y1="168.2" x2="765.2" y2="186.2" stroke="#089981" stroke-width="1.1" opacity="0.8"/>
<rect x="763.3" y="179.0" width="3.9" height="2.9" fill="#089981"/>
<line x1="770.0" y1="154.1" x2="770.0" y2="182.2" stroke="#089981" stroke-width="1.1" opacity="0.8"/>
<rect x="768.1" y="160.5" width="3.9" height="19.5" fill="#089981"/>
<line x1="774.8" y1="148.2" x2="774.8" y2="167.0" stroke="#089981" stroke-width="1.1" opacity="0.8"/>
<rect x="772.9" y="150.2" width="3.9" height="10.5" fill="#089981"/>
<line x1="779.6" y1="143.5" x2="779.6" y2="157.5" stroke="#089981" stroke-width="1.1" opacity="0.8"/>
<rect x="777.7" y="149.8" width="3.9" height="1.2" fill="#089981"/>
<line x1="784.4" y1="145.5" x2="784.4" y2="165.6" stroke="#089981" stroke-width="1.1" opacity="0.8"/>
<rect x="782.5" y="150.0" width="3.9" height="1.2" fill="#089981"/>
<line x1="789.2" y1="128.8" x2="789.2" y2="153.4" stroke="#089981" stroke-width="1.1" opacity="0.8"/>
<rect x="787.3" y="144.4" width="3.9" height="8.4" fill="#089981"/>
<line x1="794.0" y1="137.7" x2="794.0" y2="151.2" stroke="#089981" stroke-width="1.1" opacity="0.8"/>
<rect x="792.0" y="139.7" width="3.9" height="5.5" fill="#089981"/>
<line x1="798.8" y1="118.0" x2="798.8" y2="141.6" stroke="#089981" stroke-width="1.1" opacity="0.8"/>
<rect x="796.8" y="120.5" width="3.9" height="19.9" fill="#089981"/>
<line x1="803.6" y1="117.0" x2="803.6" y2="132.4" stroke="#f23645" stroke-width="1.1" opacity="0.8"/>
<rect x="801.6" y="120.5" width="3.9" height="11.2" fill="#f23645"/>
<line x1="808.4" y1="120.5" x2="808.4" y2="137.0" stroke="#f23645" stroke-width="1.1" opacity="0.8"/>
<rect x="806.4" y="131.2" width="3.9" height="1.9" fill="#f23645"/>
<line x1="813.2" y1="120.9" x2="813.2" y2="141.6" stroke="#f23645" stroke-width="1.1" opacity="0.8"/>
<rect x="811.2" y="131.7" width="3.9" height="3.0" fill="#f23645"/>
<line x1="818.0" y1="126.4" x2="818.0" y2="142.6" stroke="#f23645" stroke-width="1.1" opacity="0.8"/>
<rect x="816.0" y="134.3" width="3.9" height="4.7" fill="#f23645"/>
<line x1="822.8" y1="110.1" x2="822.8" y2="139.6" stroke="#089981" stroke-width="1.1" opacity="0.8"/>
<rect x="820.8" y="112.1" width="3.9" height="26.9" fill="#089981"/>
<line x1="827.6" y1="86.0" x2="827.6" y2="116.0" stroke="#089981" stroke-width="1.1" opacity="0.8"/>
<rect x="825.6" y="96.4" width="3.9" height="16.3" fill="#089981"/>
<line x1="832.4" y1="91.5" x2="832.4" y2="102.3" stroke="#089981" stroke-width="1.1" opacity="0.8"/>
<rect x="830.4" y="96.4" width="3.9" height="1.4" fill="#089981"/>
<line x1="837.2" y1="83.6" x2="837.2" y2="100.3" stroke="#089981" stroke-width="1.1" opacity="0.8"/>
<rect x="835.2" y="89.5" width="3.9" height="8.8" fill="#089981"/>
<line x1="842.0" y1="70.8" x2="842.0" y2="97.4" stroke="#f23645" stroke-width="1.1" opacity="0.8"/>
<rect x="840.0" y="89.5" width="3.9" height="3.5" fill="#f23645"/>
<line x1="846.7" y1="87.9" x2="846.7" y2="109.2" stroke="#f23645" stroke-width="1.1" opacity="0.8"/>
<rect x="844.8" y="91.9" width="3.9" height="3.1" fill="#f23645"/>
<line x1="851.5" y1="86.0" x2="851.5" y2="104.2" stroke="#f23645" stroke-width="1.1" opacity="0.8"/>
<rect x="849.6" y="94.4" width="3.9" height="7.9" fill="#f23645"/>
<line x1="856.3" y1="95.4" x2="856.3" y2="109.2" stroke="#f23645" stroke-width="1.1" opacity="0.8"/>
<rect x="854.4" y="102.3" width="3.9" height="5.3" fill="#f23645"/>
<line x1="861.1" y1="84.0" x2="861.1" y2="107.6" stroke="#089981" stroke-width="1.1" opacity="0.8"/>
<rect x="859.2" y="87.5" width="3.9" height="16.7" fill="#089981"/>
<line x1="865.9" y1="71.4" x2="865.9" y2="89.9" stroke="#089981" stroke-width="1.1" opacity="0.8"/>
<rect x="864.0" y="74.2" width="3.9" height="14.3" fill="#089981"/>
<line x1="870.7" y1="69.5" x2="870.7" y2="82.0" stroke="#f23645" stroke-width="1.1" opacity="0.8"/>
<rect x="868.8" y="74.2" width="3.9" height="7.1" fill="#f23645"/>
<line x1="875.5" y1="73.4" x2="875.5" y2="86.6" stroke="#f23645" stroke-width="1.1" opacity="0.8"/>
<rect x="873.6" y="80.7" width="3.9" height="3.3" fill="#f23645"/>
<line x1="880.3" y1="76.7" x2="880.3" y2="91.1" stroke="#089981" stroke-width="1.1" opacity="0.8"/>
<rect x="878.4" y="82.6" width="3.9" height="1.4" fill="#089981"/>
<line x1="885.1" y1="79.3" x2="885.1" y2="93.4" stroke="#f23645" stroke-width="1.1" opacity="0.8"/>
<rect x="883.2" y="82.6" width="3.9" height="9.9" fill="#f23645"/>
<line x1="889.9" y1="87.1" x2="889.9" y2="102.3" stroke="#f23645" stroke-width="1.1" opacity="0.8"/>
<rect x="888.0" y="91.9" width="3.9" height="3.9" fill="#f23645"/>
<line x1="894.7" y1="89.5" x2="894.7" y2="105.2" stroke="#f23645" stroke-width="1.1" opacity="0.8"/>
<rect x="892.7" y="95.4" width="3.9" height="8.3" fill="#f23645"/>
<line x1="899.5" y1="98.3" x2="899.5" y2="125.9" stroke="#089981" stroke-width="1.1" opacity="0.8"/>
<rect x="897.5" y="100.9" width="3.9" height="1.4" fill="#089981"/>
<line x1="904.3" y1="93.8" x2="904.3" y2="116.0" stroke="#f23645" stroke-width="1.1" opacity="0.8"/>
<rect x="902.3" y="102.3" width="3.9" height="12.7" fill="#f23645"/>
<line x1="909.1" y1="109.2" x2="909.1" y2="120.5" stroke="#f23645" stroke-width="1.1" opacity="0.8"/>
<rect x="907.1" y="114.1" width="3.9" height="2.5" fill="#f23645"/>
<circle cx="909.2" cy="309.3" r="9" fill="#fff"/>
<circle cx="909.2" cy="309.3" r="7.7" fill="#fff" stroke="#9c27b0" stroke-width="1.4"/>
<path d="M911.3 304.3l-5.2 5.6h3l-1.4 4.4 5.2-5.8h-3z" fill="#9c27b0"/>
<circle cx="919.3" cy="329.4" r="9" fill="#fff"/>
<circle cx="919.3" cy="329.4" r="7.7" fill="#fff" stroke="#f23645" stroke-width="1.4"/>
<circle cx="919.3" cy="329.4" r="5.9" fill="#1f55b5"/>
<circle cx="919.3" cy="329.4" r="3.4" fill="none" stroke="#f5c400" stroke-width="1" stroke-dasharray="1,0.78"/>
<circle cx="908.8" cy="329.4" r="9" fill="#fff"/>
<circle cx="908.8" cy="329.4" r="7.7" fill="#fff" stroke="#f23645" stroke-width="1.4"/>
<circle cx="908.8" cy="329.4" r="5.9" fill="#1f55b5"/>
<circle cx="908.8" cy="329.4" r="3.4" fill="none" stroke="#f5c400" stroke-width="1" stroke-dasharray="1,0.78"/>
<circle cx="919.3" cy="350" r="9" fill="#fff"/>
<circle cx="919.3" cy="350" r="7.7" fill="#fff" stroke="#f23645" stroke-width="1.4"/>
<clipPath id="c919"><circle cx="919.3" cy="350" r="5.9"/></clipPath>
<g clip-path="url(#c919)"><rect x="913.3" y="344" width="12" height="12" fill="#f4f4f4"/>
<path d="M913.3 345.2h12M913.3 348.4h12M913.3 351.6h12M913.3 354.8h12" stroke="#ef4352" stroke-width="1.6"/>
<rect x="913.3" y="344" width="6" height="6.4" fill="#3d6cc4"/></g>
<circle cx="908.8" cy="350" r="9" fill="#fff"/>
<circle cx="908.8" cy="350" r="7.7" fill="#fff" stroke="#f23645" stroke-width="1.4"/>
<clipPath id="c908"><circle cx="908.8" cy="350" r="5.9"/></clipPath>
<g clip-path="url(#c908)"><rect x="902.8" y="344" width="12" height="12" fill="#f4f4f4"/>
<path d="M902.8 345.2h12M902.8 348.4h12M902.8 351.6h12M902.8 354.8h12" stroke="#ef4352" stroke-width="1.6"/>
<rect x="902.8" y="344" width="6" height="6.4" fill="#3d6cc4"/></g>
</g>
<text x="14.8" y="38.2" font-size="10.6" fill="#131722" textLength="18.0" lengthAdjust="spacingAndGlyphs" stroke="#131722" stroke-width="0.4">Euro</text>
<text x="37.9" y="38.2" font-size="10.6" fill="#131722" textLength="2.9" lengthAdjust="spacingAndGlyphs" stroke="#131722" stroke-width="0.4">/</text>
<text x="44.7" y="38.2" font-size="10.6" fill="#131722" textLength="16.4" lengthAdjust="spacingAndGlyphs" stroke="#131722" stroke-width="0.4">U.S.</text>
<text x="65.2" y="38.2" font-size="10.6" fill="#131722" textLength="24.6" lengthAdjust="spacingAndGlyphs" stroke="#131722" stroke-width="0.4">Dollar</text>
<text x="93.6" y="38.2" font-size="10.6" fill="#131722" textLength="2.2" lengthAdjust="spacingAndGlyphs" stroke="#131722" stroke-width="0.4">·</text>
<text x="100.5" y="38.2" font-size="10.6" fill="#131722" textLength="10.2" lengthAdjust="spacingAndGlyphs" stroke="#131722" stroke-width="0.4">1D</text>
<text x="114.2" y="38.2" font-size="10.6" fill="#131722" textLength="2.2" lengthAdjust="spacingAndGlyphs" stroke="#131722" stroke-width="0.4">·</text>
<text x="120.6" y="38.2" font-size="10.6" fill="#131722" textLength="22.3" lengthAdjust="spacingAndGlyphs" stroke="#131722" stroke-width="0.4">FXCM</text>
<text x="149.1" y="38.2" font-size="10.6" fill="#131722" textLength="5.8" lengthAdjust="spacingAndGlyphs" stroke="#131722" stroke-width="0.4">O</text>
<text x="155.3" y="38.2" font-size="10.6" fill="#f23645" textLength="33.8" lengthAdjust="spacingAndGlyphs" stroke="#f23645" stroke-width="0.4">1.16884</text>
<text x="194.8" y="38.2" font-size="10.6" fill="#131722" textLength="6.0" lengthAdjust="spacingAndGlyphs" stroke="#131722" stroke-width="0.4">H</text>
<text x="201.2" y="38.2" font-size="10.6" fill="#f23645" textLength="33.3" lengthAdjust="spacingAndGlyphs" stroke="#f23645" stroke-width="0.4">1.17025</text>
<text x="241.0" y="38.2" font-size="10.6" fill="#131722" textLength="4.1" lengthAdjust="spacingAndGlyphs" stroke="#131722" stroke-width="0.4">L</text>
<text x="245.5" y="38.2" font-size="10.6" fill="#f23645" textLength="33.5" lengthAdjust="spacingAndGlyphs" stroke="#f23645" stroke-width="0.4">1.16728</text>
<text x="285.1" y="38.2" font-size="10.6" fill="#131722" textLength="5.1" lengthAdjust="spacingAndGlyphs" stroke="#131722" stroke-width="0.4">C</text>
<text x="290.6" y="38.2" font-size="10.6" fill="#f23645" textLength="33.5" lengthAdjust="spacingAndGlyphs" stroke="#f23645" stroke-width="0.4">1.16845</text>
<text x="331.3" y="38.2" font-size="10.6" fill="#f23645" textLength="35.2" lengthAdjust="spacingAndGlyphs" stroke="#f23645" stroke-width="0.4">−0.00039</text>
<text x="370.5" y="38.2" font-size="10.6" fill="#f23645" textLength="35.2" lengthAdjust="spacingAndGlyphs" stroke="#f23645" stroke-width="0.4">(−0.03%)</text>
<text x="971.0" y="38.3" font-size="10.6" fill="#131722" textLength="32.8" lengthAdjust="spacingAndGlyphs" stroke="#131722" stroke-width="0.4">1.19000</text>
<text x="971.0" y="76.0" font-size="10.6" fill="#131722" textLength="32.8" lengthAdjust="spacingAndGlyphs" stroke="#131722" stroke-width="0.4">1.18000</text>
<text x="971.0" y="191.0" font-size="10.6" fill="#131722" textLength="32.8" lengthAdjust="spacingAndGlyphs" stroke="#131722" stroke-width="0.4">1.15000</text>
<text x="971.0" y="230.0" font-size="10.6" fill="#131722" textLength="32.8" lengthAdjust="spacingAndGlyphs" stroke="#131722" stroke-width="0.4">1.14000</text>
<text x="971.0" y="269.3" font-size="10.6" fill="#131722" textLength="32.8" lengthAdjust="spacingAndGlyphs" stroke="#131722" stroke-width="0.4">1.13000</text>
<text x="971.0" y="301.0" font-size="10.6" fill="#131722" textLength="32.8" lengthAdjust="spacingAndGlyphs" stroke="#131722" stroke-width="0.4">1.12200</text>
<text x="971.0" y="332.9" font-size="10.6" fill="#131722" textLength="32.8" lengthAdjust="spacingAndGlyphs" stroke="#131722" stroke-width="0.4">1.11400</text>
<text x="971.0" y="361.1" font-size="10.6" fill="#131722" textLength="32.8" lengthAdjust="spacingAndGlyphs" stroke="#131722" stroke-width="0.4">1.10700</text>
<rect x="963.9" y="95.8" width="44.8" height="13.4" rx="2" fill="#f5c211"/>
<text x="971.0" y="106.2" font-size="10.6" fill="#131722" font-weight="bold" textLength="33.0" lengthAdjust="spacingAndGlyphs">1.17133</text>
<rect x="963.9" y="135.1" width="44.8" height="13.6" rx="2" fill="#ff9800"/>
<text x="971.0" y="145.6" font-size="10.6" fill="#131722" font-weight="bold" textLength="33.0" lengthAdjust="spacingAndGlyphs">1.16773</text>
<rect x="963.9" y="148.5" width="44.8" height="14.1" rx="2" fill="#ff6d00"/>
<text x="971.0" y="159.2" font-size="10.6" fill="#fff" font-weight="bold" textLength="33.0" lengthAdjust="spacingAndGlyphs">1.16332</text>
<rect x="963.9" y="109.6" width="48.3" height="24.9" rx="2" fill="#f23645"/>
<text x="971.0" y="120.2" font-size="10.6" fill="#fff" font-weight="bold" textLength="33.0" lengthAdjust="spacingAndGlyphs">1.16845</text>
<text x="971.0" y="131.6" font-size="10.6" fill="#fff" textLength="37.0" lengthAdjust="spacingAndGlyphs">08:48:58</text>
<g clip-path="url(#rp)">
<rect x="9" y="374.6" width="954.5" height="46.8" fill="#f1eefa"/>
<line x1="60.3" y1="374.6" x2="60.3" y2="421.4" stroke="#e3e0ee" stroke-width="1"/>
<line x1="165.8" y1="374.6" x2="165.8" y2="421.4" stroke="#e3e0ee" stroke-width="1"/>
<line x1="266.5" y1="374.6" x2="266.5" y2="421.4" stroke="#e3e0ee" stroke-width="1"/>
<line x1="376.8" y1="374.6" x2="376.8" y2="421.4" stroke="#e3e0ee" stroke-width="1"/>
<line x1="477.5" y1="374.6" x2="477.5" y2="421.4" stroke="#e3e0ee" stroke-width="1"/>
<line x1="583" y1="374.6" x2="583" y2="421.4" stroke="#e3e0ee" stroke-width="1"/>
<line x1="693.3" y1="374.6" x2="693.3" y2="421.4" stroke="#e3e0ee" stroke-width="1"/>
<line x1="789.2" y1="374.6" x2="789.2" y2="421.4" stroke="#e3e0ee" stroke-width="1"/>
<line x1="894.7" y1="374.6" x2="894.7" y2="421.4" stroke="#e3e0ee" stroke-width="1"/>
<line x1="9" y1="374.6" x2="963.5" y2="374.6" stroke="#9496a0" stroke-width="1.1" stroke-dasharray="3.5,5.3" stroke-dashoffset="0.6"/>
<line x1="9" y1="398.2" x2="963.5" y2="398.2" stroke="#c2c4cc" stroke-width="1.1" stroke-dasharray="3.5,5.3" stroke-dashoffset="0.6"/>
<line x1="9" y1="421.4" x2="963.5" y2="421.4" stroke="#9496a0" stroke-width="1.1" stroke-dasharray="3.5,5.3" stroke-dashoffset="0.6"/>
<clipPath id="ob"><rect x="9" y="362" width="955" height="12.6"/></clipPath>
<path d="M7.6 371.1 L12.3 374.1 L17.1 372.7 L21.9 368.4 L26.7 375.6 L31.5 384.9 L36.3 381.5 L41.1 383.5 L45.9 380.5 L50.7 384.1 L55.5 388.4 L60.3 391.3 L65.1 390.8 L69.9 389.4 L74.7 386.0 L79.5 391.3 L84.3 397.2 L89.1 395.9 L93.9 406.7 L98.7 399.8 L103.5 400.2 L108.3 399.2 L113.1 401.2 L117.8 394.3 L122.6 391.9 L127.4 389.4 L132.2 393.3 L137.0 388.0 L141.8 386.4 L146.6 390.8 L151.4 394.7 L156.2 389.4 L161.0 391.0 L165.8 384.9 L170.6 391.3 L175.4 387.4 L180.2 385.8 L185.0 390.8 L189.8 389.4 L194.6 388.4 L199.4 383.5 L204.2 378.2 L209.0 381.1 L213.8 380.5 L218.6 389.4 L223.3 389.8 L228.1 388.4 L232.9 386.0 L237.7 381.5 L242.5 379.0 L247.3 375.6 L252.1 373.7 L256.9 373.1 L261.7 369.1 L266.5 367.8 L271.3 369.7 L276.1 375.6 L280.9 374.6 L285.7 384.1 L290.5 382.5 L295.3 383.5 L300.1 386.8 L304.9 388.8 L309.7 392.3 L314.5 400.2 L319.3 395.3 L324.1 400.6 L328.8 397.2 L333.6 390.4 L338.4 384.1 L343.2 382.5 L348.0 385.5 L352.8 386.8 L357.6 403.7 L362.4 408.0 L367.2 417.9 L372.0 416.5 L376.8 399.2 L381.6 400.6 L386.4 400.2 L391.2 393.3 L396.0 392.3 L400.8 394.3 L405.6 397.2 L410.4 392.3 L415.2 389.4 L420.0 395.3 L424.8 390.8 L429.5 394.3 L434.3 397.2 L439.1 395.9 L443.9 400.6 L448.7 390.4 L453.5 399.2 L458.3 397.2 L463.1 397.2 L467.9 393.7 L472.7 393.3 L477.5 390.8 L482.3 398.6 L487.1 395.9 L491.9 397.2 L496.7 390.8 L501.5 386.4 L506.3 393.3 L511.1 394.7 L515.9 390.8 L520.7 390.4 L525.5 387.4 L530.3 379.0 L535.0 385.5 L539.8 390.0 L544.6 393.9 L549.4 388.8 L554.2 387.8 L559.0 395.3 L563.8 402.7 L568.6 399.2 L573.4 396.7 L578.2 395.9 L583.0 396.3 L587.8 397.8 L592.6 395.3 L597.4 399.8 L602.2 405.1 L607.0 408.0 L611.8 413.3 L616.6 406.1 L621.4 410.4 L626.2 405.7 L631.0 400.6 L635.8 396.7 L640.5 400.6 L645.3 402.2 L650.1 405.7 L654.9 404.1 L659.7 403.1 L664.5 401.8 L669.3 399.2 L674.1 398.2 L678.9 405.1 L683.7 409.0 L688.5 412.0 L693.3 413.9 L698.1 417.5 L702.9 415.5 L707.7 406.5 L712.5 403.1 L717.3 403.7 L722.1 399.8 L726.9 397.8 L731.7 391.9 L736.5 393.9 L741.3 398.6 L746.0 401.2 L750.8 407.1 L755.6 408.4 L760.4 411.0 L765.2 408.4 L770.0 399.5 L774.8 395.1 L779.6 394.9 L784.4 394.3 L789.2 391.9 L794.0 390.0 L798.8 382.5 L803.6 388.0 L808.4 388.8 L813.2 390.0 L818.0 392.3 L822.8 382.5 L827.6 376.6 L832.4 376.2 L837.2 374.3 L842.0 375.6 L846.7 377.6 L851.5 382.1 L856.3 386.4 L861.1 379.6 L865.9 374.6 L870.7 378.2 L875.5 380.5 L880.3 380.1 L885.1 386.0 L889.9 389.4 L894.7 394.3 L899.5 393.3 L904.3 400.6 L909.1 402.2 L909.1 374.6 L7.6 374.6Z" fill="#4caf50" fill-opacity="0.1" clip-path="url(#ob)"/>
<path d="M8.3 379.6C10.2 379.0 16.6 376.9 19.6 376.2C22.6 375.5 23.9 375.2 26.5 375.2C29.1 375.2 32.3 376.1 35.4 376.2C38.5 376.3 42.3 375.6 45.2 375.6C48.1 375.6 49.7 375.4 53.0 376.2C56.3 376.9 60.5 378.9 64.8 380.1C69.1 381.3 73.7 381.9 78.6 383.5C83.5 385.1 89.7 388.5 94.3 390.0C98.9 391.5 102.5 391.8 106.1 392.7C109.7 393.6 112.3 394.8 115.9 395.3C119.5 395.8 123.4 395.6 127.7 395.7C132.0 395.8 137.2 395.8 141.5 395.7C145.8 395.6 149.3 395.8 153.2 395.3C157.1 394.8 161.1 393.4 165.0 392.7C168.9 391.9 172.9 391.4 176.8 390.8C180.7 390.2 185.2 389.7 188.6 389.4C192.0 389.1 194.0 389.3 197.0 389.0C200.0 388.7 202.9 387.8 206.8 387.4C210.7 387.0 215.9 386.6 220.5 386.4C225.1 386.2 230.0 386.3 234.3 386.0C238.6 385.7 242.2 385.2 246.1 384.5C250.0 383.8 254.0 382.4 257.9 381.5C261.8 380.6 265.8 379.8 269.7 379.2C273.6 378.6 277.5 378.6 281.4 378.2C285.3 377.8 289.6 377.2 293.2 377.0C296.8 376.8 299.8 376.8 303.1 377.2C306.4 377.6 309.6 378.7 312.9 379.6C316.2 380.6 319.4 381.8 322.7 382.9C326.0 384.0 329.2 385.5 332.5 386.4C335.8 387.3 339.0 387.9 342.3 388.4C345.6 388.9 348.9 388.6 352.2 389.4C355.5 390.2 358.7 392.0 362.0 393.3C365.3 394.6 368.5 396.4 371.8 397.2C375.1 397.9 378.2 397.8 381.6 397.8C385.0 397.9 388.0 397.4 392.0 397.5C396.0 397.6 401.1 398.2 405.7 398.6C410.3 399.1 414.9 400.5 419.5 400.2C424.1 399.9 428.3 397.6 433.2 396.7C438.1 395.8 443.6 395.2 448.9 394.9C454.1 394.6 460.1 395.0 464.7 394.9C469.3 394.8 471.8 394.1 476.4 394.3C481.0 394.5 486.9 396.2 492.2 396.3C497.4 396.4 502.7 395.4 507.9 394.9C513.1 394.4 519.0 393.9 523.6 393.3C528.2 392.7 531.5 391.5 535.4 391.0C539.3 390.5 543.6 390.7 547.2 390.4C550.8 390.1 553.7 389.3 557.0 389.4C560.3 389.5 563.2 390.6 566.8 391.0C570.4 391.4 575.1 391.6 578.6 391.9C582.1 392.2 585.1 392.4 587.5 392.6C589.9 392.8 590.0 392.6 592.9 393.3C595.8 394.0 601.0 395.7 604.6 396.7C608.2 397.7 611.2 398.3 614.5 399.2C617.8 400.1 620.7 401.3 624.3 401.8C627.9 402.3 632.2 402.0 636.1 402.2C640.0 402.4 644.0 402.8 647.9 403.1C651.8 403.4 655.8 404.1 659.7 404.1C663.6 404.1 667.5 403.4 671.4 403.1C675.3 402.8 679.6 402.4 683.2 402.5C686.8 402.6 689.8 403.1 693.1 403.7C696.4 404.3 699.6 405.5 702.9 406.1C706.2 406.7 709.4 407.0 712.7 407.1C716.0 407.2 718.9 406.8 722.5 406.5C726.1 406.2 730.4 405.7 734.3 405.5C738.2 405.3 742.2 405.4 746.1 405.1C750.0 404.8 754.0 404.2 757.9 403.7C761.8 403.2 765.7 402.9 769.7 402.3C773.7 401.7 777.5 400.8 781.8 400.2C786.1 399.6 790.9 399.1 795.5 398.6C800.1 398.1 805.4 397.9 809.3 397.2C813.2 396.5 815.8 395.8 819.1 394.7C822.4 393.6 825.6 391.8 828.9 390.4C832.2 389.0 835.5 387.4 838.8 386.4C842.1 385.3 845.3 384.8 848.6 384.1C851.9 383.4 855.1 382.6 858.4 382.1C861.7 381.6 864.9 381.2 868.2 380.9C871.5 380.5 875.2 380.2 878.1 380.0C881.0 379.8 883.3 379.5 885.9 379.6C888.5 379.7 891.2 379.9 893.8 380.5C896.4 381.1 899.0 382.0 901.6 382.9C904.2 383.8 907.9 385.5 909.1 386.0" fill="none" stroke="#5e5e5e" stroke-width="1.5" stroke-linejoin="round" stroke-linecap="round" opacity="1"/>
<polyline points="7.6,371.1 12.3,374.1 17.1,372.7 21.9,368.4 26.7,375.6 31.5,384.9 36.3,381.5 41.1,383.5 45.9,380.5 50.7,384.1 55.5,388.4 60.3,391.3 65.1,390.8 69.9,389.4 74.7,386.0 79.5,391.3 84.3,397.2 89.1,395.9 93.9,406.7 98.7,399.8 103.5,400.2 108.3,399.2 113.1,401.2 117.8,394.3 122.6,391.9 127.4,389.4 132.2,393.3 137.0,388.0 141.8,386.4 146.6,390.8 151.4,394.7 156.2,389.4 161.0,391.0 165.8,384.9 170.6,391.3 175.4,387.4 180.2,385.8 185.0,390.8 189.8,389.4 194.6,388.4 199.4,383.5 204.2,378.2 209.0,381.1 213.8,380.5 218.6,389.4 223.3,389.8 228.1,388.4 232.9,386.0 237.7,381.5 242.5,379.0 247.3,375.6 252.1,373.7 256.9,373.1 261.7,369.1 266.5,367.8 271.3,369.7 276.1,375.6 280.9,374.6 285.7,384.1 290.5,382.5 295.3,383.5 300.1,386.8 304.9,388.8 309.7,392.3 314.5,400.2 319.3,395.3 324.1,400.6 328.8,397.2 333.6,390.4 338.4,384.1 343.2,382.5 348.0,385.5 352.8,386.8 357.6,403.7 362.4,408.0 367.2,417.9 372.0,416.5 376.8,399.2 381.6,400.6 386.4,400.2 391.2,393.3 396.0,392.3 400.8,394.3 405.6,397.2 410.4,392.3 415.2,389.4 420.0,395.3 424.8,390.8 429.5,394.3 434.3,397.2 439.1,395.9 443.9,400.6 448.7,390.4 453.5,399.2 458.3,397.2 463.1,397.2 467.9,393.7 472.7,393.3 477.5,390.8 482.3,398.6 487.1,395.9 491.9,397.2 496.7,390.8 501.5,386.4 506.3,393.3 511.1,394.7 515.9,390.8 520.7,390.4 525.5,387.4 530.3,379.0 535.0,385.5 539.8,390.0 544.6,393.9 549.4,388.8 554.2,387.8 559.0,395.3 563.8,402.7 568.6,399.2 573.4,396.7 578.2,395.9 583.0,396.3 587.8,397.8 592.6,395.3 597.4,399.8 602.2,405.1 607.0,408.0 611.8,413.3 616.6,406.1 621.4,410.4 626.2,405.7 631.0,400.6 635.8,396.7 640.5,400.6 645.3,402.2 650.1,405.7 654.9,404.1 659.7,403.1 664.5,401.8 669.3,399.2 674.1,398.2 678.9,405.1 683.7,409.0 688.5,412.0 693.3,413.9 698.1,417.5 702.9,415.5 707.7,406.5 712.5,403.1 717.3,403.7 722.1,399.8 726.9,397.8 731.7,391.9 736.5,393.9 741.3,398.6 746.0,401.2 750.8,407.1 755.6,408.4 760.4,411.0 765.2,408.4 770.0,399.5 774.8,395.1 779.6,394.9 784.4,394.3 789.2,391.9 794.0,390.0 798.8,382.5 803.6,388.0 808.4,388.8 813.2,390.0 818.0,392.3 822.8,382.5 827.6,376.6 832.4,376.2 837.2,374.3 842.0,375.6 846.7,377.6 851.5,382.1 856.3,386.4 861.1,379.6 865.9,374.6 870.7,378.2 875.5,380.5 880.3,380.1 885.1,386.0 889.9,389.4 894.7,394.3 899.5,393.3 904.3,400.6 909.1,402.2" fill="none" stroke="#444444" stroke-width="1.15" stroke-linejoin="round" stroke-linecap="round"/>
</g>
<text x="971.0" y="372.8" font-size="10.6" fill="#131722" textLength="23.0" lengthAdjust="spacingAndGlyphs" stroke="#131722" stroke-width="0.4">75.00</text>
<rect x="963.9" y="391.7" width="34.4" height="13.0" rx="1.5" fill="#000"/>
<text x="971.0" y="401.6" font-size="10.6" fill="#fff" font-weight="bold" textLength="23.5" lengthAdjust="spacingAndGlyphs">50.00</text>
<rect x="963.9" y="380.1" width="34.4" height="13.2" rx="1.5" fill="#000"/>
<text x="971.0" y="390.2" font-size="10.6" fill="#fff" font-weight="bold" textLength="23.5" lengthAdjust="spacingAndGlyphs">59.76</text>
<rect x="963.9" y="395.9" width="34.4" height="13.1" rx="1.5" fill="#000"/>
<text x="971.0" y="405.9" font-size="10.6" fill="#fff" font-weight="bold" textLength="23.5" lengthAdjust="spacingAndGlyphs">46.25</text>
<text x="60.3" y="441.8" font-size="10.6" fill="#2a2e39" text-anchor="middle" textLength="16.3" lengthAdjust="spacingAndGlyphs" stroke="#2a2e39" stroke-width="0.3">May</text>
<text x="165.8" y="441.8" font-size="10.6" fill="#2a2e39" text-anchor="middle" textLength="14.7" lengthAdjust="spacingAndGlyphs" stroke="#2a2e39" stroke-width="0.3">Jun</text>
<text x="266.5" y="441.8" font-size="10.6" fill="#2a2e39" text-anchor="middle" textLength="12.0" lengthAdjust="spacingAndGlyphs" stroke="#2a2e39" stroke-width="0.3">Jul</text>
<text x="376.8" y="441.8" font-size="10.6" fill="#2a2e39" text-anchor="middle" textLength="15.1" lengthAdjust="spacingAndGlyphs" stroke="#2a2e39" stroke-width="0.3">Aug</text>
<text x="477.5" y="441.8" font-size="10.6" fill="#2a2e39" text-anchor="middle" textLength="15.3" lengthAdjust="spacingAndGlyphs" stroke="#2a2e39" stroke-width="0.3">Sep</text>
<text x="583.0" y="441.8" font-size="10.6" fill="#2a2e39" text-anchor="middle" textLength="14.8" lengthAdjust="spacingAndGlyphs" stroke="#2a2e39" stroke-width="0.3">Oct</text>
<text x="693.3" y="441.8" font-size="10.6" fill="#2a2e39" text-anchor="middle" textLength="15.7" lengthAdjust="spacingAndGlyphs" stroke="#2a2e39" stroke-width="0.3">Nov</text>
<text x="789.2" y="441.8" font-size="10.6" fill="#2a2e39" text-anchor="middle" textLength="15.1" lengthAdjust="spacingAndGlyphs" stroke="#2a2e39" stroke-width="0.3">Dec</text>
<text x="894.7" y="441.8" font-size="10.6" fill="#131722" text-anchor="middle" font-weight="bold" textLength="21.8" lengthAdjust="spacingAndGlyphs">2026</text>
<path d="M9.6 467.8H19V480H14.3V472.3H9.6Z" fill="#111"/>
<circle cx="23.1" cy="470.1" r="2.1" fill="#111"/>
<path d="M28.4 467.8H33.2L28.7 480H23.4Z" fill="#111"/>
<text x="39.6" y="480.1" font-size="17" fill="#111" font-weight="bold" textLength="95.6" lengthAdjust="spacingAndGlyphs">TradingView</text>
</svg>
</body></html>
